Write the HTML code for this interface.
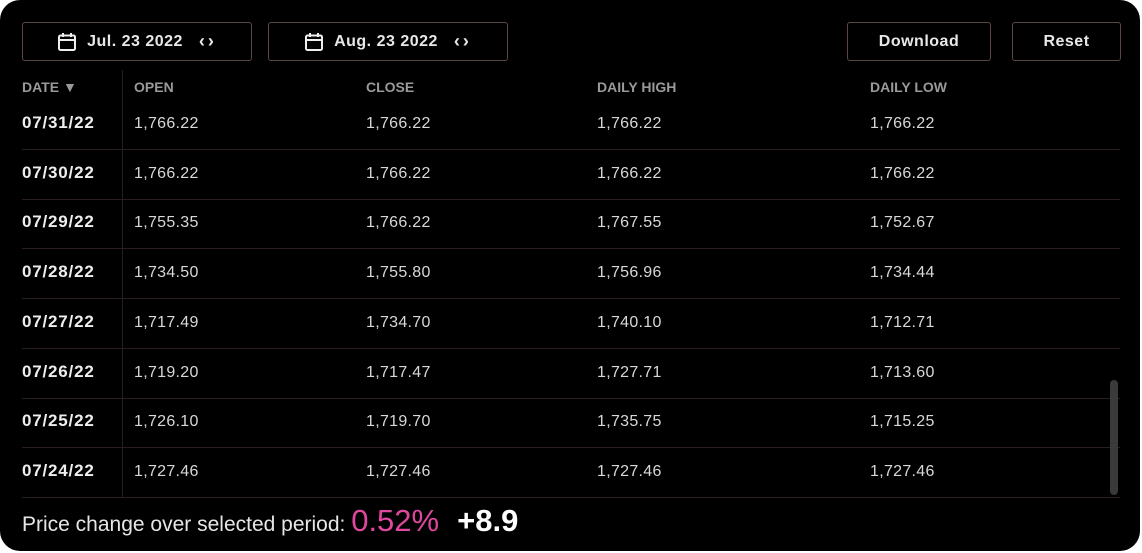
<!DOCTYPE html>
<html><head><meta charset="utf-8">
<style>
html,body{margin:0;padding:0;background:#fff;}
body{width:1142px;height:553px;position:relative;overflow:hidden;font-family:"Liberation Sans",sans-serif;}
#card{position:absolute;left:0;top:0;width:1140px;height:551px;background:#000;border-radius:20px;}
.btn{position:absolute;top:22px;height:37px;border:1px solid #5a4744;border-radius:3px;color:#e8e8e8;font-weight:bold;font-size:16px;display:flex;align-items:center;justify-content:center;box-sizing:content-box;letter-spacing:0.5px;}
.cal{display:inline-block;margin-right:10px;}
.arr{margin-left:16px;font-size:18px;letter-spacing:3px;}
.hd{position:absolute;top:79px;font-size:14px;font-weight:bold;color:#9a9a9a;}
.cell{position:absolute;font-size:16px;color:#d8d8d8;letter-spacing:0.3px;}
.date{font-weight:bold;color:#eee;font-size:17px;letter-spacing:0.8px;margin-top:-2px;}
.sep{position:absolute;left:22px;width:1098px;height:1px;background:#2a1e1c;}
</style></head><body>
<div id="card">
<div class="btn" style="left:22px;width:228px">
<svg class="cal" width="20" height="20" viewBox="0 0 20 20"><rect x="2" y="3.5" width="16" height="14.5" rx="1.5" fill="none" stroke="#eee" stroke-width="2"/><line x1="2" y1="8" x2="18" y2="8" stroke="#eee" stroke-width="2"/><line x1="6" y1="1" x2="6" y2="5" stroke="#eee" stroke-width="2"/><line x1="14" y1="1" x2="14" y2="5" stroke="#eee" stroke-width="2"/></svg>
<span>Jul. 23 2022</span><span class="arr">‹›</span></div>
<div class="btn" style="left:268px;width:238px">
<svg class="cal" width="20" height="20" viewBox="0 0 20 20"><rect x="2" y="3.5" width="16" height="14.5" rx="1.5" fill="none" stroke="#eee" stroke-width="2"/><line x1="2" y1="8" x2="18" y2="8" stroke="#eee" stroke-width="2"/><line x1="6" y1="1" x2="6" y2="5" stroke="#eee" stroke-width="2"/><line x1="14" y1="1" x2="14" y2="5" stroke="#eee" stroke-width="2"/></svg>
<span>Aug. 23 2022</span><span class="arr">‹›</span></div>
<div class="btn" style="left:847px;width:142px">Download</div>
<div class="btn" style="left:1012px;width:107px">Reset</div>
<div class="hd" style="left:22px">DATE ▼</div>
<div class="hd" style="left:134px">OPEN</div>
<div class="hd" style="left:366px">CLOSE</div>
<div class="hd" style="left:597px">DAILY HIGH</div>
<div class="hd" style="left:870px">DAILY LOW</div>
<div style="position:absolute;left:122px;top:70px;width:1px;height:427px;background:#2a1e1c"></div>
<div id="rows"></div>
<div style="position:absolute;left:1110px;top:380px;width:8px;height:115px;border-radius:4px;background:#3a3a3a"></div>
<div style="position:absolute;left:22px;top:503px;font-size:21px;color:#e6e6e6;white-space:nowrap">Price change over selected period: <span style="font-size:31px;color:#e0479e">0.52%</span><span style="font-size:31px;color:#fff;font-weight:bold;margin-left:18px">+8.9</span></div>
</div>
<script>
const dates=["07/31/22","07/30/22","07/29/22","07/28/22","07/27/22","07/26/22","07/25/22","07/24/22"];
const openVals=["1,766.22","1,766.22","1,755.35","1,734.50","1,717.49","1,719.20","1,726.10","1,727.46"];
const closeVals=["1,766.22","1,766.22","1,766.22","1,755.80","1,734.70","1,717.47","1,719.70","1,727.46"];
const highVals=["1,766.22","1,766.22","1,767.55","1,756.96","1,740.10","1,727.71","1,735.75","1,727.46"];
const lowVals=["1,766.22","1,766.22","1,752.67","1,734.44","1,712.71","1,713.60","1,715.25","1,727.46"];
const rows=document.getElementById('rows');
const cols=[[dates,22,'date-cell'],[openVals,134,'open-cell'],[closeVals,366,'close-cell'],[highVals,597,'high-cell'],[lowVals,870,'low-cell']];
for(let i=0;i<dates.length;i++){
  const top=115+i*49.7;
  cols.forEach(([arr,x,name],ci)=>{
    const d=document.createElement('div');
    d.className='cell'+(ci===0?' date':'');
    d.style.left=x+'px';d.style.top=top+'px';
    d.textContent=arr[i];
    
    
    rows.appendChild(d);
  });
  const s=document.createElement('div');
  s.className='sep';s.style.top=(149+i*49.7)+'px';
  
  
  rows.appendChild(s);
}
</script>
</body></html>
